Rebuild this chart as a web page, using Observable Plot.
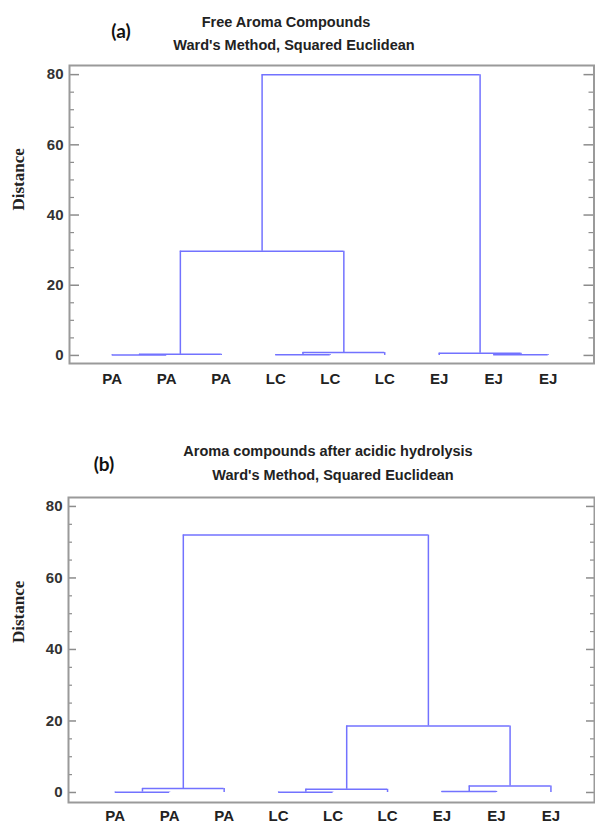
<!DOCTYPE html>
<html><head><meta charset="utf-8">
<script src="https://cdn.jsdelivr.net/npm/d3@7"></script>
<script src="https://cdn.jsdelivr.net/npm/@observablehq/plot@0.6"></script>
<style>
html,body{margin:0;padding:0;background:#fff;}
#wrap{position:relative;width:595px;height:830px;overflow:hidden;font-family:"Liberation Sans",Arial,sans-serif;}
.t{position:absolute;white-space:nowrap;transform:translate(-50%,-50%);font-weight:bold;font-size:14.5px;color:#222;line-height:1;}
.tag{position:absolute;white-space:nowrap;transform:translate(-50%,-50%);font-family:Lato,"Open Sans",sans-serif;font-weight:bold;font-size:19px;color:#111;line-height:1;}
.p{position:absolute;left:0;}
</style></head>
<body><div id="wrap">
<div class="p" id="pa" style="top:0"></div>
<div class="p" id="pb" style="top:415px"></div>
<div class="tag" style="left:121px;top:30px">(a)</div>
<div class="t" style="left:286px;top:22px">Free Aroma Compounds</div>
<div class="t" style="left:294px;top:45px">Ward's Method, Squared Euclidean</div>
<div class="tag" style="left:104px;top:463px">(b)</div>
<div class="t" style="left:328px;top:451px">Aroma compounds after acidic hydrolysis</div>
<div class="t" style="left:333px;top:475px">Ward's Method, Squared Euclidean</div>
</div>
<script>
// Leaves (in dendrogram order)
const leafLabels = ["PA","PA","PA","LC","LC","LC","EJ","EJ","EJ"];
// Y tick values
const yMajor = [0, 20, 40, 60, 80];
const yMinor = [5, 10, 15, 25, 30, 35, 45, 50, 55, 65, 70, 75];
// Merges: [left child, right child, distance]; "L#" = leaf index, "M#" = merge row
const mergesA = [
  ["L0", "L1", 0.1],
  ["M0", "L2", 0.3],
  ["L3", "L4", 0.2],
  ["M2", "L5", 0.8],
  ["L7", "L8", 0.2],
  ["L6", "M4", 0.6],
  ["M1", "M3", 29.7],
  ["M6", "M5", 80]
];
const mergesB = [
  ["L0", "L1", 0.1],
  ["M0", "L2", 1.1],
  ["L3", "L4", 0.1],
  ["M2", "L5", 0.9],
  ["L6", "L7", 0.3],
  ["M4", "L8", 1.8],
  ["M3", "M5", 18.6],
  ["M1", "M6", 72]
];

function tree(merges) {
  const nodes = {};
  leafLabels.forEach((d, i) => nodes["L" + i] = {x: i, h: 0});
  const hs = [], vs = [];
  merges.forEach(([a, b, h], k) => {
    const A = nodes[a], B = nodes[b];
    nodes["M" + k] = {x: (A.x + B.x) / 2, h};
    hs.push({x1: A.x, x2: B.x, y: h});
    vs.push({x: A.x, y1: A.h, y2: h}, {x: B.x, y1: B.h, y2: h});
  });
  return {hs, vs};
}

const LINE = "#7272ff";
const GREY = "#8c8c8c";

function panel(o) {
  const {hs, vs} = tree(o.merges);
  const W = 595 - o.mL - o.mR;
  return Plot.plot({
    width: 595,
    height: o.height,
    marginLeft: o.mL, marginRight: o.mR, marginTop: o.mT, marginBottom: o.mB,
    x: {type: "linear", domain: o.xDomain, axis: null},
    y: {domain: o.yDomain, axis: null},
    style: {background: "transparent", fontFamily: "'Liberation Sans', Arial, sans-serif", overflow: "visible"},
    marks: [
      Plot.ruleY(yMajor, {y: d => d, insetRight: W - o.major, stroke: GREY, strokeWidth: 1.5}),
      Plot.ruleY(yMinor, {y: d => d, insetRight: W - o.minor, stroke: GREY, strokeWidth: 1.2}),
      Plot.ruleY(yMajor, {y: d => d, insetLeft: W - o.major, stroke: GREY, strokeWidth: 1.5}),
      Plot.ruleY(yMinor, {y: d => d, insetLeft: W - o.minor, stroke: GREY, strokeWidth: 1.2}),
      Plot.frame({stroke: "#9a9a9a", strokeWidth: 2}),
      Plot.ruleY(hs, {y: "y", x1: "x1", x2: "x2", stroke: LINE, strokeWidth: 1.5}),
      Plot.ruleX(vs, {x: "x", y1: "y1", y2: "y2", stroke: LINE, strokeWidth: 1.5}),
      Plot.text(yMajor, {y: d => d, text: d => String(d), frameAnchor: "left", dx: -6, textAnchor: "end",
        fontSize: 15, fontWeight: "bold", fill: "#333"}),
      Plot.text(leafLabels, {x: (d, i) => i, text: d => d, frameAnchor: "bottom", dy: o.labelDy,
        fontSize: 15, fontWeight: "bold", fill: "#222"}),
      Plot.text(["Distance"], {text: d => d, frameAnchor: "left", rotate: -90, dx: o.titleDx, dy: o.titleDy,
        fontFamily: "'Liberation Serif', 'DejaVu Serif', serif", fontSize: 17, fontWeight: "bold", fill: "#222"})
    ]
  });
}

document.getElementById("pa").append(panel({
  merges: mergesA, height: 400, mL: 69, mR: 1.5, mT: 65, mB: 37,
  xDomain: [-0.784, 8.84], yDomain: [-2.3, 82.6],
  major: 10, minor: 5, labelDy: 20, titleDx: -51, titleDy: -4
}));
document.getElementById("pb").append(panel({
  merges: mergesB, height: 415, mL: 68, mR: 1, mT: 82, mB: 28,
  xDomain: [-0.858, 8.80], yDomain: [-2.8, 82.5],
  major: 8, minor: 4, labelDy: 18, titleDx: -50, titleDy: -7
}));
</script>
</body></html>
